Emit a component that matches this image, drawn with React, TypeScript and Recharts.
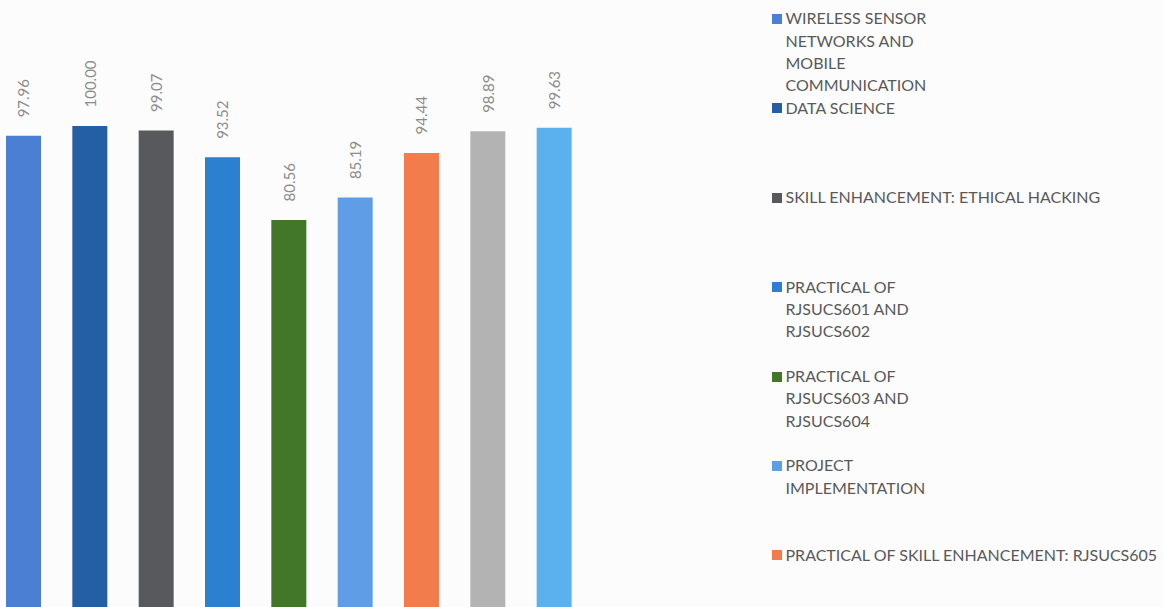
import React from 'react';
import { BarChart, Bar, XAxis, YAxis, Cell, LabelList, Legend } from 'recharts';

// ---- data ----
const subjects: string[] = [
  'WIRELESS SENSOR\nNETWORKS AND\nMOBILE\nCOMMUNICATION',
  'DATA SCIENCE',
  'SKILL ENHANCEMENT: ETHICAL HACKING',
  'PRACTICAL OF\nRJSUCS601 AND\nRJSUCS602',
  'PRACTICAL OF\nRJSUCS603 AND\nRJSUCS604',
  'PROJECT\nIMPLEMENTATION',
  'PRACTICAL OF SKILL ENHANCEMENT: RJSUCS605',
  'SUBJECT 8',
  'SUBJECT 9',
];
const percentages: number[] = [97.96, 100.0, 99.07, 93.52, 80.56, 85.19, 94.44, 98.89, 99.63];

// ---- palette ----
const barColors: string[] = [
  '#4b7fd3', '#245ea5', '#58595c', '#2b80d0', '#427628',
  '#5f9ee6', '#f37c4c', '#b3b3b3', '#5bb1ee',
];

const data = subjects.map((s, i) => ({ subject: s, pct: percentages[i] }));

const FONT = "Lato, 'Open Sans', sans-serif";
const W = 1174;
const H = 620;

const ValueLabel = (props: any) => {
  const { x, y, width, value } = props;
  const cx = x + width / 2;
  const ty = y - 18.5;
  return (
    <text
      x={cx}
      y={ty}
      transform={`rotate(-90 ${cx} ${ty})`}
      textAnchor="start"
      dominantBaseline="central"
      fill="#8c8c8c"
      fontSize={15}
      fontFamily={FONT}
    >
      {Number(value).toFixed(2)}
    </text>
  );
};

const LegendContent = () => {
  const slot = 89.4;
  const lineH = 22.4;
  const first = 18.5;
  return (
    <div style={{ position: 'relative', width: 393, height: 607, fontFamily: FONT }}>
      {subjects.map((s, i) => {
        const cy = first + slot * i;
        if (cy > 600) return null;
        const lines = s.split('\n');
        return (
          <div key={i} style={{ position: 'absolute', left: 0, top: cy - lineH / 2 }}>
            <div
              style={{
                position: 'absolute',
                left: 0,
                top: lineH / 2 - 4.5,
                width: 10,
                height: 10,
                background: barColors[i],
              }}
            />
            <div style={{ position: 'absolute', left: 14, top: 0, whiteSpace: 'nowrap' }}>
              {lines.map((l, j) => (
                <div key={j} style={{ height: lineH, lineHeight: `${lineH}px`, fontSize: 16, color: '#595959' }}>
                  {l}
                </div>
              ))}
            </div>
          </div>
        );
      })}
    </div>
  );
};

export default function App() {
  return (
    <div
      style={{
        position: 'fixed',
        left: 0,
        top: 0,
        width: 1164,
        height: 607,
        overflow: 'hidden',
        background: '#fcfcfc',
      }}
    >
      <div style={{ position: 'absolute', left: -10, top: 0 }}>
        <BarChart
          width={W}
          height={H}
          data={data}
          margin={{ top: 126, right: 577, bottom: 10.5, left: 0 }}
        >
          <XAxis dataKey="subject" hide />
          <YAxis hide domain={[0, 100]} />
          <Legend
            layout="horizontal"
            verticalAlign="middle"
            align="center"
            content={<LegendContent />}
            wrapperStyle={{ position: 'absolute', left: 781.5, top: 0, width: 393, height: 607 }}
          />
          <Bar dataKey="pct" barSize={35} isAnimationActive={false}>
            {data.map((d, i) => (
              <Cell key={i} fill={barColors[i]} />
            ))}
            <LabelList dataKey="pct" content={<ValueLabel />} />
          </Bar>
        </BarChart>
      </div>
    </div>
  );
}
